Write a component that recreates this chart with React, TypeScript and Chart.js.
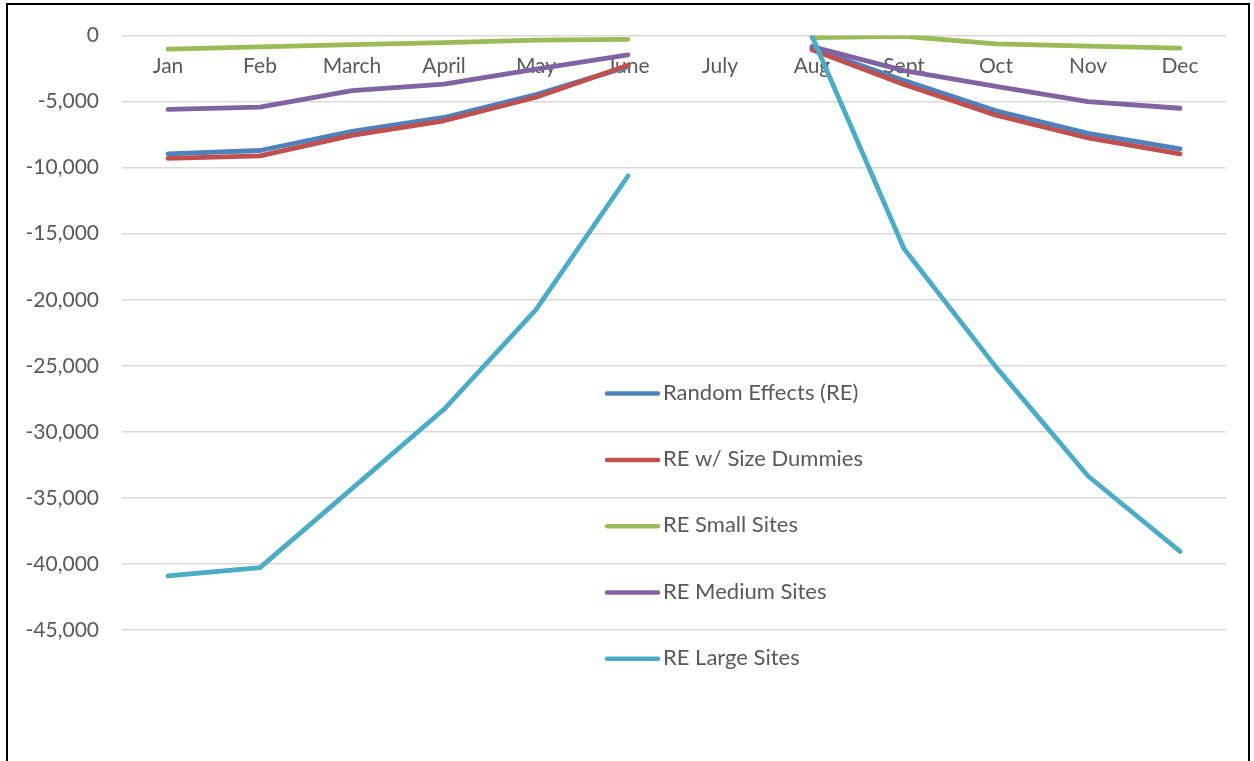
import { useEffect, useRef } from 'react';
import { Chart, registerables } from 'chart.js';

Chart.register(...registerables);

const categories = ['Jan', 'Feb', 'March', 'April', 'May', 'June', 'July', 'Aug', 'Sept', 'Oct', 'Nov', 'Dec'];

const randomEffects = [-8960, -8700, -7250, -6200, -4470, -2350, null, -950, -3400, -5700, -7400, -8570];
const sizeDummies = [-9300, -9100, -7550, -6450, -4670, -2250, null, -1080, -3700, -6030, -7750, -8950];
const smallSites = [-1030, -850, -680, -530, -350, -280, null, -150, -50, -620, -800, -950];
const mediumSites = [-5590, -5420, -4170, -3670, -2540, -1460, null, -830, -2650, -3850, -5000, -5500];
const largeSites = [-40910, -40280, -34300, -28290, -20750, -10630, null, -50, -16140, -25100, -33340, -39050];

const seriesNames = ['Random Effects (RE)', 'RE w/ Size Dummies', 'RE Small Sites', 'RE Medium Sites', 'RE Large Sites'];
const seriesColors = ['#4F81BD', '#C0504D', '#9BBB59', '#8064A2', '#4BACC6'];

const yMin = -45000;
const yMax = 0;
const yStep = 5000;

const FONT = 'Lato';
const TEXT_COLOR = '#595959';

const insideLegend = {
  id: 'insideLegend',
  afterDraw(chart: any) {
    const { ctx, chartArea } = chart;
    const x0 = chartArea.left + 485;
    const lineLen = 51;
    const y0 = chartArea.top + 358;
    const step = 66.3;
    ctx.save();
    chart.data.datasets.forEach((ds: any, i: number) => {
      const y = y0 + i * step;
      ctx.strokeStyle = ds.borderColor;
      ctx.lineWidth = 4.5;
      ctx.lineCap = 'round';
      ctx.beginPath();
      ctx.moveTo(x0, y);
      ctx.lineTo(x0 + lineLen, y);
      ctx.stroke();
      ctx.fillStyle = TEXT_COLOR;
      ctx.font = `22px ${FONT}`;
      ctx.textBaseline = 'middle';
      ctx.textAlign = 'left';
      ctx.fillText(ds.label, x0 + lineLen + 5, y - 1);
    });
    ctx.restore();
  },
};

export default function App() {
  const canvasRef = useRef<HTMLCanvasElement | null>(null);

  useEffect(() => {
    if (!canvasRef.current) return;
    const allSeries = [randomEffects, sizeDummies, smallSites, mediumSites, largeSites];
    const chart = new Chart(canvasRef.current, {
      type: 'line',
      data: {
        labels: categories,
        datasets: allSeries.map((values, i) => ({
          label: seriesNames[i],
          data: values,
          borderColor: seriesColors[i],
          backgroundColor: seriesColors[i],
          borderWidth: 4.8,
          pointRadius: 0,
          pointHoverRadius: 0,
          tension: 0,
          spanGaps: false,
          borderCapStyle: 'round',
          borderJoinStyle: 'round',
          order: allSeries.length - i,
        })),
      },
      options: {
        responsive: false,
        animation: false,
        devicePixelRatio: 1,
        layout: { padding: { left: 0, top: 33, right: 28, bottom: 131 } },
        plugins: {
          legend: { display: false },
          tooltip: { enabled: false },
        },
        scales: {
          x: {
            type: 'category',
            position: { y: 0 },
            offset: true,
            grid: { display: false },
            border: { display: false },
            ticks: {
              color: TEXT_COLOR,
              font: { family: FONT, size: 21 },
              padding: 10,
              maxRotation: 0,
              autoSkip: false,
            },
          },
          y: {
            min: yMin,
            max: yMax,
            afterFit: (scale: any) => {
              scale.width = 122;
            },
            grid: { color: '#D9D9D9', lineWidth: 1.4, drawTicks: false },
            border: { display: false },
            ticks: {
              stepSize: yStep,
              color: TEXT_COLOR,
              font: { family: FONT, size: 21 },
              padding: 23,
              callback: (v: any) => Number(v).toLocaleString('en-US'),
            },
          },
        },
      },
      plugins: [insideLegend],
    });
    return () => chart.destroy();
  }, []);

  return (
    <div style={{ position: 'fixed', left: 0, top: 0, width: 1254, height: 761, background: '#fff', overflow: 'hidden' }}>
      <canvas ref={canvasRef} width={1254} height={761} style={{ position: 'absolute', left: 0, top: 0, width: 1254, height: 761 }} />
      <div
        style={{
          position: 'absolute',
          left: 6,
          top: 3,
          width: 1240,
          height: 800,
          borderTop: '2.5px solid #000',
          borderLeft: '2.5px solid #000',
          borderRight: '2.5px solid #000',
          pointerEvents: 'none',
        }}
      />
    </div>
  );
}
